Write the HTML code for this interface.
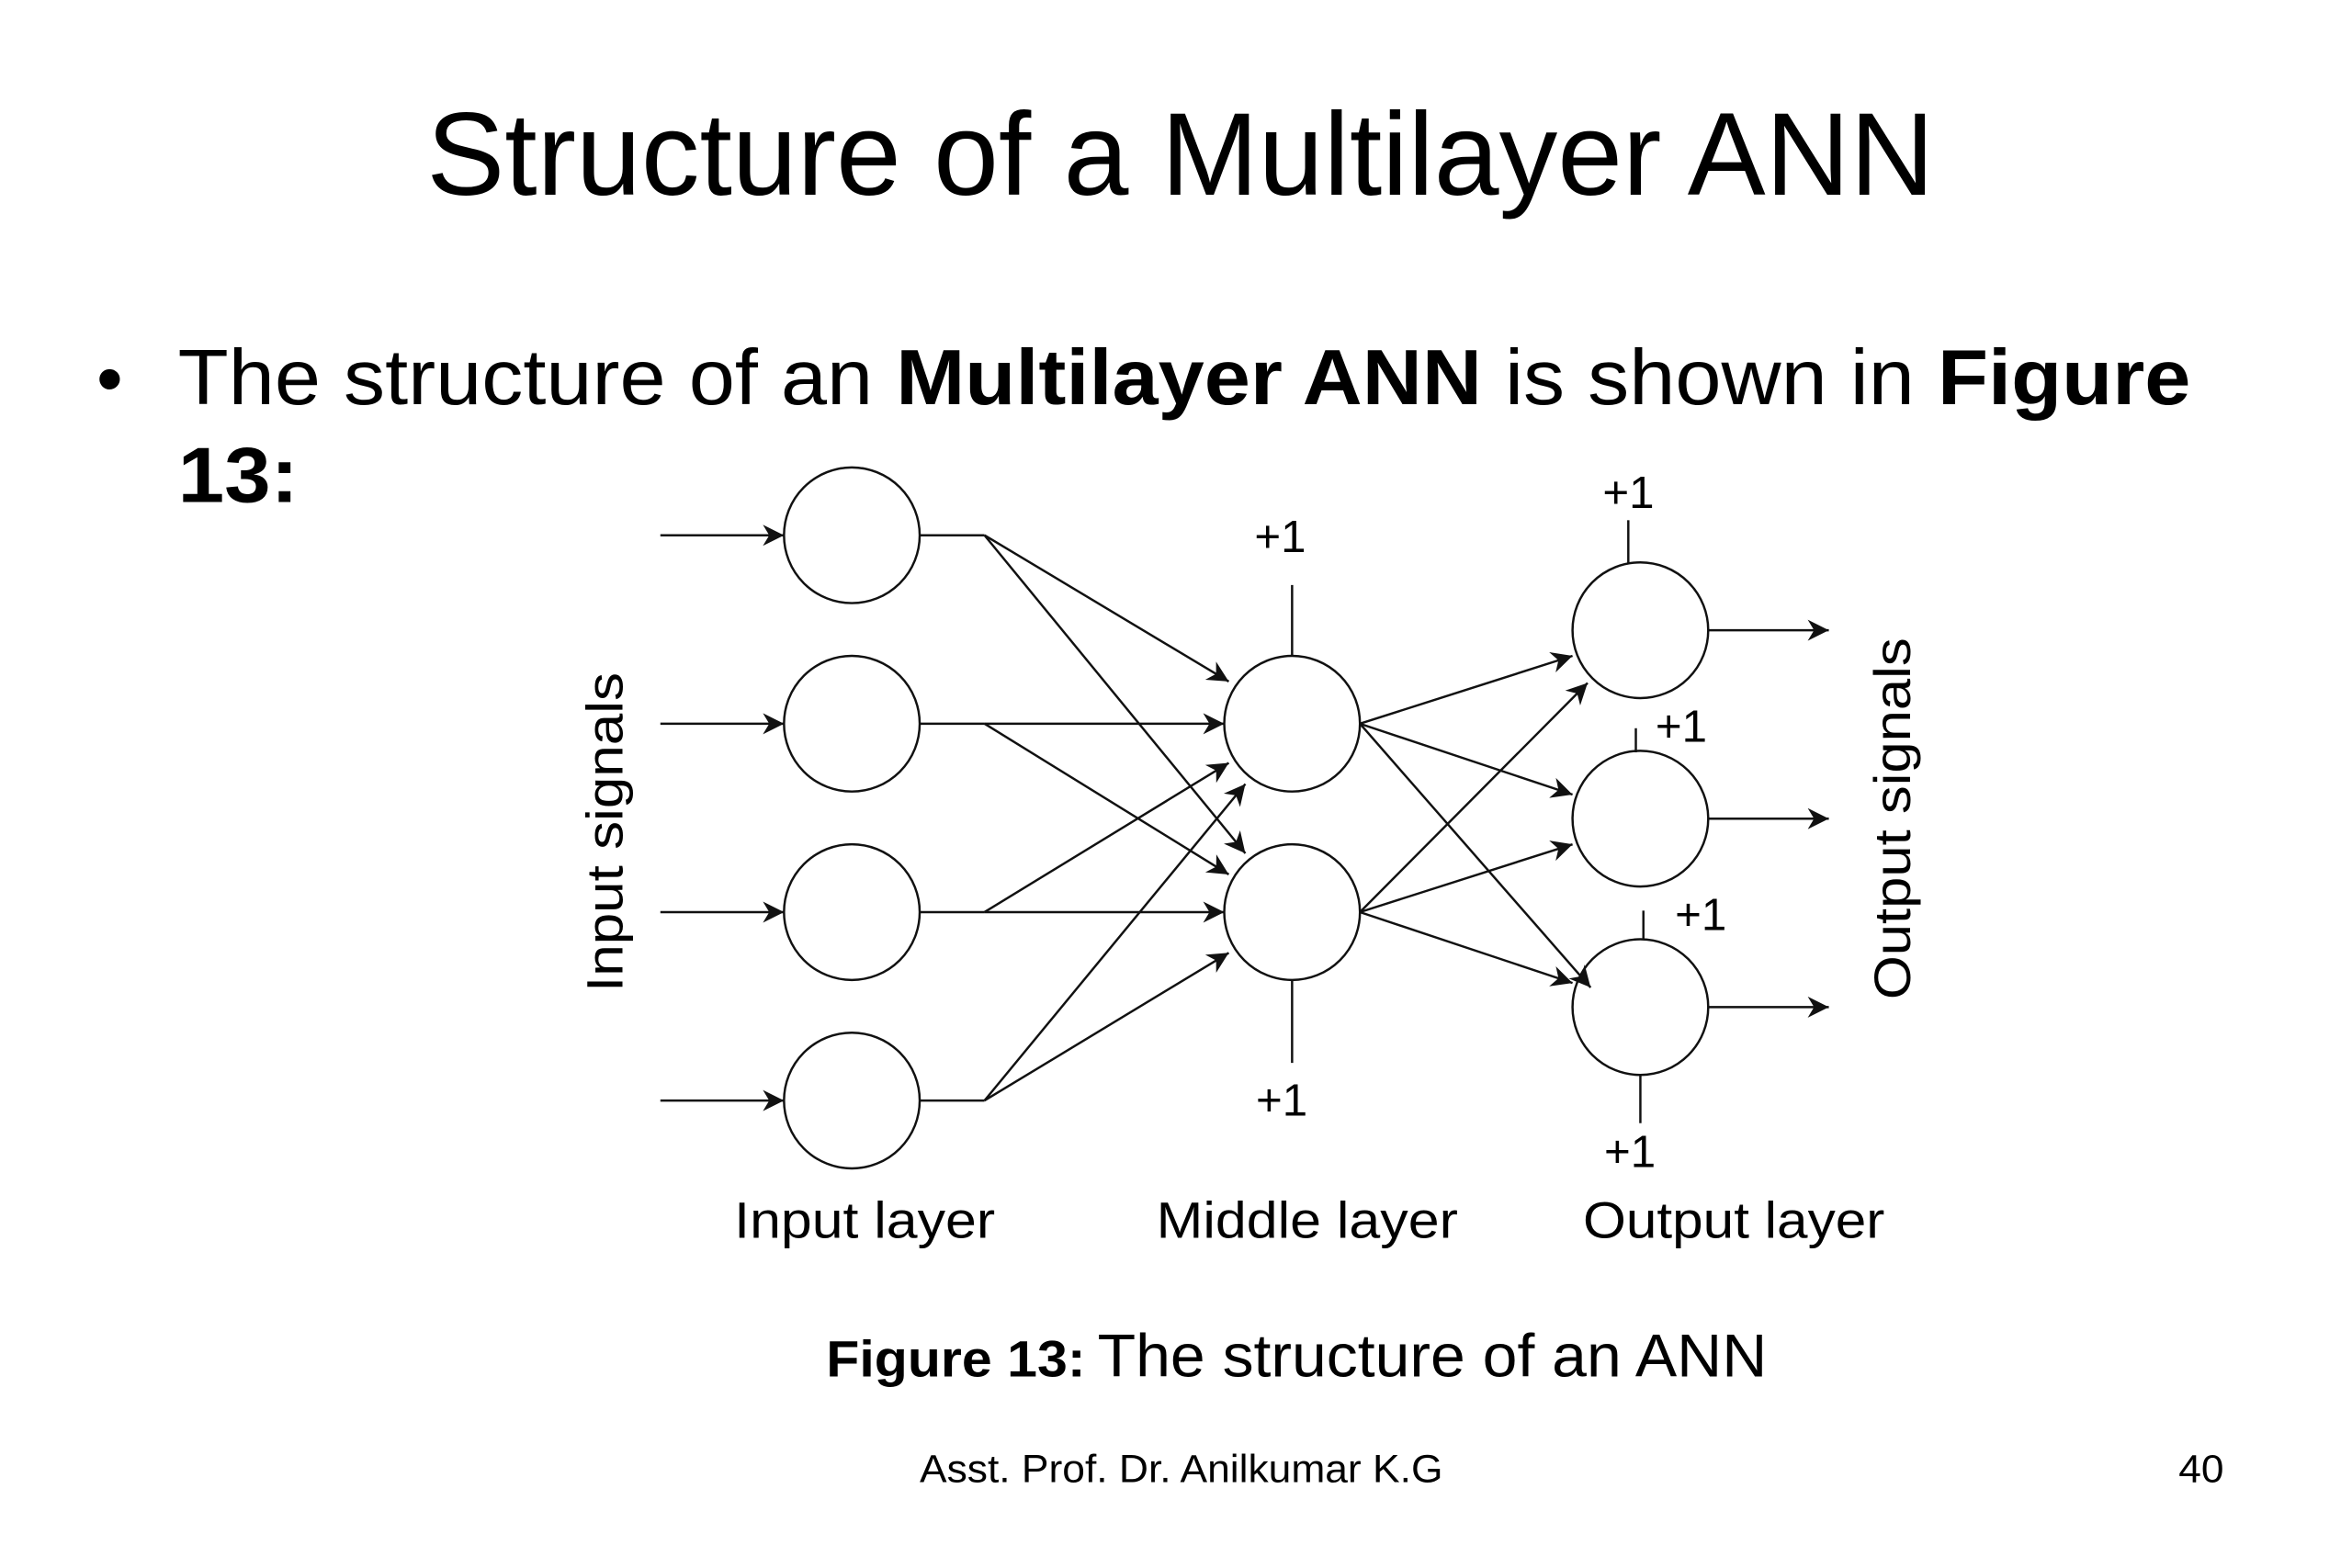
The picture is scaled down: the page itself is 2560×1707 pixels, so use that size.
<!DOCTYPE html>
<html><head><meta charset="utf-8">
<style>
html,body{margin:0;padding:0;background:#fff;}
svg{display:block;}
text{font-family:"Liberation Sans",Arial,sans-serif;fill:#000;}
</style></head>
<body>
<svg width="2560" height="1707" viewBox="0 0 1560 1040" xmlns="http://www.w3.org/2000/svg">
<defs>
<marker id="b" viewBox="0 0 10 10" refX="10" refY="5" markerWidth="20" markerHeight="14" markerUnits="userSpaceOnUse" orient="auto">
<path d="M0,0 L10,5 L0,10 L3,5 z" fill="#111"/>
</marker>
</defs>
<rect width="1560" height="1040" fill="#fff"/>
<text x="283" y="129" font-size="78" textLength="1000" lengthAdjust="spacingAndGlyphs">Structure of a Multilayer ANN</text>
<text x="64" y="268" font-size="50">•</text>
<text x="118" y="268" font-size="52" textLength="1335" lengthAdjust="spacingAndGlyphs">The structure of an  <tspan font-weight="bold">Multilayer ANN</tspan> is shown in <tspan font-weight="bold">Figure</tspan></text>
<text x="118" y="333" font-size="52" font-weight="bold" textLength="80" lengthAdjust="spacingAndGlyphs">13:</text>

<g stroke="#111" stroke-width="1.5" fill="none">
<line x1="438" y1="355" x2="520" y2="355" marker-end="url(#b)"/>
<line x1="438" y1="480" x2="520" y2="480" marker-end="url(#b)"/>
<line x1="438" y1="605" x2="520" y2="605" marker-end="url(#b)"/>
<line x1="438" y1="730" x2="520" y2="730" marker-end="url(#b)"/>
<ellipse cx="565" cy="355" rx="45" ry="45"/>
<ellipse cx="565" cy="480" rx="45" ry="45"/>
<ellipse cx="565" cy="605" rx="45" ry="45"/>
<ellipse cx="565" cy="730" rx="45" ry="45"/>
<line x1="610" y1="355" x2="653" y2="355"/>
<line x1="610" y1="480" x2="653" y2="480"/>
<line x1="610" y1="605" x2="653" y2="605"/>
<line x1="610" y1="730" x2="653" y2="730"/>
<line x1="653" y1="355" x2="815" y2="452" marker-end="url(#b)"/>
<line x1="653" y1="355" x2="826" y2="566" marker-end="url(#b)"/>
<line x1="653" y1="480" x2="812" y2="480" marker-end="url(#b)"/>
<line x1="653" y1="480" x2="815" y2="580" marker-end="url(#b)"/>
<line x1="653" y1="605" x2="815" y2="506" marker-end="url(#b)"/>
<line x1="653" y1="605" x2="812" y2="605" marker-end="url(#b)"/>
<line x1="653" y1="730" x2="826" y2="520" marker-end="url(#b)"/>
<line x1="653" y1="730" x2="815" y2="632" marker-end="url(#b)"/>
<ellipse cx="857" cy="480" rx="45" ry="45"/>
<ellipse cx="857" cy="605" rx="45" ry="45"/>
<line x1="857" y1="388" x2="857" y2="435"/>
<line x1="857" y1="650" x2="857" y2="705"/>
<line x1="902" y1="480" x2="1043" y2="435" marker-end="url(#b)"/>
<line x1="902" y1="480" x2="1043" y2="527" marker-end="url(#b)"/>
<line x1="902" y1="480" x2="1055" y2="655" marker-end="url(#b)"/>
<line x1="902" y1="605" x2="1053" y2="453" marker-end="url(#b)"/>
<line x1="902" y1="605" x2="1043" y2="560" marker-end="url(#b)"/>
<line x1="902" y1="605" x2="1043" y2="652" marker-end="url(#b)"/>
<ellipse cx="1088" cy="418" rx="45" ry="45"/>
<ellipse cx="1088" cy="543" rx="45" ry="45"/>
<ellipse cx="1088" cy="668" rx="45" ry="45"/>
<line x1="1080" y1="345" x2="1080" y2="374"/>
<line x1="1085" y1="483" x2="1085" y2="499"/>
<line x1="1090" y1="604" x2="1090" y2="623"/>
<line x1="1088" y1="713" x2="1088" y2="745"/>
<line x1="1133" y1="418" x2="1213" y2="418" marker-end="url(#b)"/>
<line x1="1133" y1="543" x2="1213" y2="543" marker-end="url(#b)"/>
<line x1="1133" y1="668" x2="1213" y2="668" marker-end="url(#b)"/>
</g>

<g font-size="30">
<text x="832" y="366">+1</text>
<text x="833" y="740">+1</text>
<text x="1063" y="337">+1</text>
<text x="1098" y="492">+1</text>
<text x="1111" y="617">+1</text>
<text x="1064" y="774">+1</text>
</g>
<g font-size="34">
<text x="487" y="821" textLength="173" lengthAdjust="spacingAndGlyphs">Input layer</text>
<text x="767" y="821" textLength="200" lengthAdjust="spacingAndGlyphs">Middle layer</text>
<text x="1050" y="821" textLength="200" lengthAdjust="spacingAndGlyphs">Output layer</text>
</g>
<text transform="translate(413,552) rotate(-90)" text-anchor="middle" font-size="34" textLength="212" lengthAdjust="spacingAndGlyphs">Input signals</text>
<text transform="translate(1267,543) rotate(-90)" text-anchor="middle" font-size="34" textLength="240" lengthAdjust="spacingAndGlyphs">Output signals</text>

<text x="548" y="913" font-size="34" font-weight="bold" textLength="172" lengthAdjust="spacingAndGlyphs">Figure 13:</text>
<text x="728" y="913" font-size="40" textLength="444" lengthAdjust="spacingAndGlyphs">The structure of an ANN</text>
<text x="610" y="983" font-size="26" textLength="347" lengthAdjust="spacingAndGlyphs">Asst. Prof. Dr. Anilkumar K.G</text>
<text x="1445" y="983" font-size="26" textLength="30" lengthAdjust="spacingAndGlyphs">40</text>
</svg>
</body></html>
